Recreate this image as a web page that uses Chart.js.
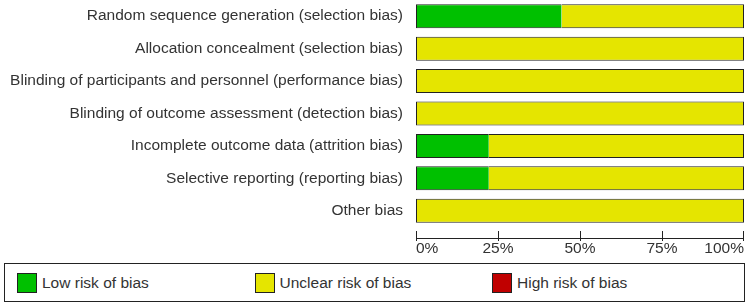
<!DOCTYPE html>
<html>
<head>
<meta charset="utf-8">
<script src="https://cdn.jsdelivr.net/npm/chart.js@4.4.1/dist/chart.umd.min.js"></script>
<style>
    body { margin: 0; background: #fff; font-family: "Liberation Sans", Arial, sans-serif; }
    #wrap { position: relative; width: 750px; height: 307px; }
    #chartBox { position: absolute; left: 0; top: 0; width: 750px; height: 262px; }
    #legend {
        position: absolute; left: 4px; top: 263px; width: 741px; height: 39px;
        box-sizing: border-box; border: 1px solid #222; display: flex; align-items: center;
        padding-left: 12px;
    }
    .item { width: 237.5px; display: flex; align-items: center; font-size: 15.5px; color: #333; }
    .swatch { width: 20px; height: 20px; box-sizing: border-box; border: 1px solid #222; margin-right: 5px; }
</style>
</head>
<body>
<div id="wrap">
    <div id="chartBox"><canvas id="riskChart"></canvas></div>
    <div id="legend"></div>
</div>
<script>
const domains = [
    'Random sequence generation (selection bias)',
    'Allocation concealment (selection bias)',
    'Blinding of participants and personnel (performance bias)',
    'Blinding of outcome assessment (detection bias)',
    'Incomplete outcome data (attrition bias)',
    'Selective reporting (reporting bias)',
    'Other bias'
];
const lowRisk = [44.4, 0, 0, 0, 22.2, 22.2, 0];
const unclearRisk = [55.6, 100, 100, 100, 77.8, 77.8, 100];
const highRisk = [0, 0, 0, 0, 0, 0, 0];
const xTicks = [0, 25, 50, 75, 100];

const textColor = '#333';
const lineColor = '#222';
const labelFont = { family: '"Liberation Sans", Arial', size: 15.5 };

// рамка вокруг всей полосы, без линии между сегментами
function borderFor(ctx) {
    const ds = ctx.chart.data.datasets;
    const i = ctx.dataIndex;
    const d = ctx.datasetIndex;
    if (!ds[d].data[i]) return 0;
    let first = true, last = true;
    for (let k = 0; k < ds.length; k++) {
        if (ds[k].data[i] > 0) {
            if (k < d) first = false;
            if (k > d) last = false;
        }
    }
    return { top: 1, bottom: 1, left: first ? 1 : 0, right: last ? 1 : 0 };
}

// ось X: линия с засечками над подписями
const axisPlugin = {
    id: 'axisLine',
    afterDraw(chart) {
        const x = chart.scales.x;
        const y = chart.chartArea.bottom + 11;
        const c = chart.ctx;
        c.save();
        c.strokeStyle = lineColor;
        c.lineWidth = 1;
        c.beginPath();
        c.moveTo(x.getPixelForValue(0), y + 0.5);
        c.lineTo(x.getPixelForValue(100) - 1, y + 0.5);
        xTicks.forEach(v => {
            let px = Math.round(x.getPixelForValue(v)) + 0.5;
            if (v === 100) px -= 1;
            c.moveTo(px, y - 7);
            c.lineTo(px, y + 3);
        });
        c.stroke();
        c.restore();
    }
};

const ctx = document.getElementById('riskChart').getContext('2d');
const chart = new Chart(ctx, {
    type: 'bar',
    data: {
        labels: domains,
        datasets: [
            { label: 'Low risk of bias', data: lowRisk, backgroundColor: '#00c000' },
            { label: 'Unclear risk of bias', data: unclearRisk, backgroundColor: '#e5e500' },
            { label: 'High risk of bias', data: highRisk, backgroundColor: '#c00000' }
        ]
    },
    options: {
        indexAxis: 'y',
        responsive: true,
        maintainAspectRatio: false,
        animation: false,
        layout: { padding: { left: 0, right: 6, top: 0, bottom: 0 } },
        datasets: {
            bar: {
                categoryPercentage: 1,
                barPercentage: 0.74,
                borderColor: lineColor,
                borderWidth: borderFor,
                borderSkipped: false
            }
        },
        plugins: {
            legend: { display: false },
            tooltip: { enabled: false }
        },
        scales: {
            x: {
                stacked: true,
                min: 0,
                max: 100,
                afterFit(scale) {
                    scale.height = 35;
                    scale.paddingLeft = 0;
                    scale.paddingRight = 0;
                },
                afterBuildTicks(scale) { scale.ticks = xTicks.map(v => ({ value: v })); },
                grid: { display: false, drawTicks: false },
                border: { display: false },
                ticks: {
                    align: 'inner',
                    padding: 12,
                    color: textColor,
                    font: labelFont,
                    callback: v => v + '%'
                }
            },
            y: {
                stacked: true,
                afterFit(scale) {
                    scale.width = 416;
                    scale.paddingTop = 0;
                    scale.paddingBottom = 0;
                },
                grid: { display: false, drawTicks: false },
                border: { display: false },
                ticks: {
                    padding: 13,
                    color: textColor,
                    font: labelFont
                }
            }
        }
    },
    plugins: [axisPlugin]
});

// легенда в рамке под графиком
const legend = document.getElementById('legend');
chart.data.datasets.forEach(ds => {
    const item = document.createElement('div');
    item.className = 'item';
    const sw = document.createElement('span');
    sw.className = 'swatch';
    sw.style.background = ds.backgroundColor;
    item.appendChild(sw);
    item.appendChild(document.createTextNode(ds.label));
    legend.appendChild(item);
});
</script>
</body>
</html>
